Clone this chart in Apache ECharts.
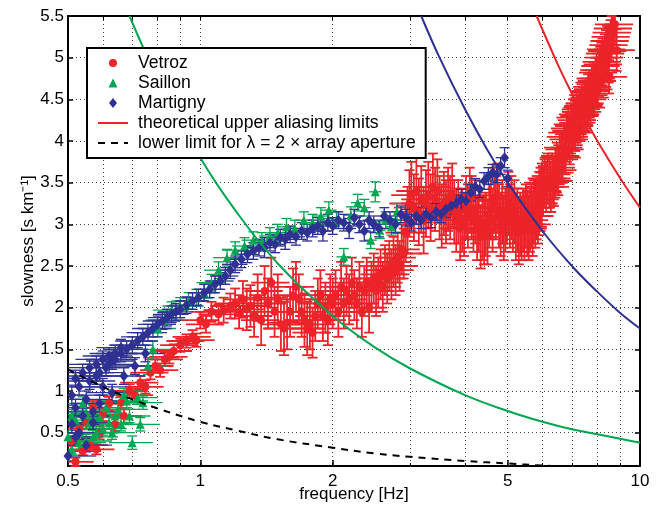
<!DOCTYPE html>
<html>
<head>
<meta charset="utf-8">
<script src="https://cdn.jsdelivr.net/npm/echarts@6/dist/echarts.min.js"></script>
<style>
  html, body { margin: 0; padding: 0; background: #fff; }
  #chart { width: 667px; height: 511px; }
</style>
</head>
<body>
<div id="chart"></div>
<script>
// frequency ticks (Hz) and slowness ticks (s/km)
var freqLabels = [0.5, 1, 2, 5, 10];
var freqGrid = [0.5, 0.6, 0.7, 0.8, 0.9, 1, 2, 3, 4, 5, 6, 7, 8, 9, 10];
var slowLabels = [0.5, 1, 1.5, 2, 2.5, 3, 3.5, 4, 4.5, 5, 5.5];

// frequency error: Vetroz as a fraction of f, the other two in Hz
var vetrozFreqErrRel = 0.1;
var freqErrHz = 0.08;

// Vetroz
var vetrozFreq = [
  0.51, 0.52, 0.53, 0.54, 0.55, 0.56, 0.57, 0.58, 0.59, 0.60,
  0.62, 0.64, 0.66, 0.67, 0.69, 0.71, 0.73, 0.75, 0.77, 0.79,
  0.81, 0.83, 0.85, 0.87, 0.90, 0.93, 0.96, 0.98, 1.00, 1.03,
  1.06, 1.10, 1.13, 1.17,
  1.200, 1.225, 1.250, 1.275, 1.300, 1.325, 1.350, 1.375, 1.400, 1.425,
  1.450, 1.475, 1.500, 1.525, 1.550, 1.575, 1.600, 1.625, 1.650, 1.675,
  1.700, 1.725, 1.750, 1.775, 1.800, 1.825, 1.850, 1.875, 1.900, 1.925,
  1.950, 1.975, 2.000,
  2.03, 2.06, 2.09, 2.12, 2.15, 2.18, 2.21, 2.24, 2.27, 2.30,
  2.33, 2.36, 2.39, 2.42, 2.45, 2.48, 2.51, 2.54, 2.57, 2.60,
  2.63, 2.66, 2.69, 2.72, 2.75, 2.78, 2.81, 2.84, 2.87, 2.90,
  2.93, 2.96, 2.99,
  3.02, 3.06, 3.10, 3.14, 3.18, 3.22, 3.26, 3.30, 3.34, 3.38,
  3.42, 3.46, 3.50, 3.54, 3.58, 3.62, 3.66, 3.70, 3.74, 3.78,
  3.82, 3.86, 3.90, 3.94, 3.98, 4.02, 4.06, 4.10, 4.14, 4.18,
  4.22, 4.26, 4.30, 4.34, 4.38, 4.42, 4.46, 4.50, 4.54, 4.58,
  4.62, 4.66, 4.70, 4.74, 4.78, 4.82, 4.86, 4.90, 4.94, 4.98,
  5.02, 5.06, 5.10, 5.14, 5.18, 5.22, 5.26, 5.30, 5.34, 5.38,
  5.42, 5.46, 5.50, 5.54, 5.58, 5.62, 5.66, 5.70, 5.74, 5.78,
  5.82, 5.86, 5.90, 5.94, 5.98,
  6.02, 6.07, 6.12, 6.17, 6.22, 6.27, 6.32, 6.37, 6.42, 6.47,
  6.52, 6.57, 6.62, 6.67, 6.72, 6.77, 6.82, 6.87, 6.92, 6.97,
  7.02, 7.07, 7.12, 7.17, 7.22, 7.27, 7.32, 7.37, 7.42, 7.47,
  7.52, 7.57, 7.62, 7.67, 7.72, 7.77, 7.82, 7.87, 7.92, 7.97,
  8.02, 8.07, 8.12, 8.17, 8.22, 8.27, 8.32, 8.37, 8.42, 8.47,
  8.52, 8.57, 8.62, 8.67, 8.72, 8.77,
  8.50, 8.85];
var vetrozSlow = [
  0.40, 0.15, 0.55, 0.28, 0.62, 0.35, 0.80, 0.30, 0.50, 0.72,
  0.85, 0.60, 0.86, 0.70, 1.00, 0.95, 1.10, 1.05, 1.22, 1.30,
  1.25, 1.38, 1.41, 1.48, 1.55, 1.60, 1.65, 1.61, 1.85, 1.80,
  1.95, 1.92, 1.97, 2.02,
  2.05, 1.95, 2.10, 1.98, 2.02, 1.90, 2.12, 1.85, 2.20, 2.05,
  2.30, 1.95, 2.10, 1.80, 1.75, 1.82, 1.95, 2.15, 2.25, 2.10,
  1.95, 1.85, 1.75, 1.80, 1.70, 1.90, 2.05, 2.15, 1.90, 2.00,
  1.85, 2.10, 2.05,
  2.15, 1.95, 2.25, 2.05, 2.20, 2.10, 2.30, 2.15, 2.05, 2.25,
  1.95, 2.20, 2.30, 2.00, 2.25, 2.35, 2.20, 2.30, 2.40, 2.25,
  2.45, 2.35, 2.50, 2.40, 2.55, 2.45, 2.60, 2.50, 2.70, 2.65,
  2.90, 3.05, 3.25,
  3.35, 3.20, 3.40, 3.15, 3.30, 3.05, 3.25, 3.35, 3.20, 3.45,
  3.30, 3.40, 3.20, 3.10, 3.25, 3.15, 3.30, 3.20, 3.35, 3.15,
  3.05, 3.15, 2.95, 3.05, 3.00, 3.20, 3.10, 3.30, 3.20, 3.05,
  3.15, 2.95, 3.05, 2.85, 2.95, 2.90, 3.00, 2.90, 3.10, 3.20,
  3.05, 3.30, 3.20, 3.35, 3.10, 3.00, 3.15, 2.95, 3.05, 3.15,
  3.25, 3.10, 3.20, 3.05, 3.15, 2.95, 3.05, 2.90, 3.00, 2.95,
  3.05, 2.95, 3.10, 3.00, 2.95, 3.05, 3.10, 3.00, 3.15, 3.10,
  3.20, 3.15, 3.25, 3.30, 3.35,
  3.40, 3.50, 3.45, 3.55, 3.50, 3.45, 3.55, 3.52, 3.62, 3.68,
  3.65, 3.78, 3.82, 3.80, 3.92, 3.90, 4.05, 4.10, 4.02, 4.15,
  4.12, 4.20, 4.18, 4.28, 4.25, 4.32, 4.30, 4.38, 4.35, 4.42,
  4.45, 4.40, 4.50, 4.55, 4.52, 4.60, 4.65, 4.62, 4.70, 4.75,
  4.72, 4.82, 4.85, 4.90, 4.95, 4.92, 5.00, 5.05, 5.10, 5.08,
  5.15, 5.20, 5.25, 5.30, 5.35, 5.40,
  4.77, 5.09];
var vetrozErr = [
  0.06, 0.05, 0.06, 0.05, 0.08, 0.06, 0.08, 0.06, 0.08, 0.08,
  0.08, 0.08, 0.08, 0.08, 0.08, 0.08, 0.08, 0.08, 0.08, 0.08,
  0.08, 0.08, 0.08, 0.08, 0.08, 0.08, 0.08, 0.08, 0.10, 0.10,
  0.12, 0.12, 0.15, 0.15,
  0.18, 0.20, 0.22, 0.25, 0.25, 0.25, 0.28, 0.30, 0.30, 0.30,
  0.30, 0.30, 0.30, 0.32, 0.32, 0.32, 0.30, 0.32, 0.30, 0.30,
  0.30, 0.32, 0.32, 0.30, 0.30, 0.30, 0.30, 0.30, 0.30, 0.30,
  0.30, 0.30, 0.30,
  0.30, 0.30, 0.30, 0.30, 0.30, 0.30, 0.30, 0.30, 0.30, 0.30,
  0.30, 0.30, 0.30, 0.30, 0.30, 0.30, 0.30, 0.30, 0.30, 0.30,
  0.30, 0.30, 0.30, 0.30, 0.30, 0.30, 0.30, 0.30, 0.30, 0.30,
  0.35, 0.40, 0.40,
  0.40, 0.40, 0.40, 0.40, 0.40, 0.40, 0.40, 0.40, 0.40, 0.40,
  0.38, 0.38, 0.38, 0.38, 0.38, 0.38, 0.38, 0.38, 0.38, 0.38,
  0.38, 0.38, 0.38, 0.38, 0.38, 0.38, 0.38, 0.38, 0.38, 0.38,
  0.38, 0.38, 0.38, 0.38, 0.38, 0.38, 0.38, 0.38, 0.38, 0.38,
  0.38, 0.38, 0.38, 0.38, 0.38, 0.38, 0.38, 0.38, 0.38, 0.38,
  0.38, 0.38, 0.38, 0.38, 0.38, 0.38, 0.38, 0.38, 0.38, 0.38,
  0.38, 0.38, 0.38, 0.38, 0.38, 0.38, 0.38, 0.38, 0.38, 0.38,
  0.38, 0.38, 0.38, 0.38, 0.38,
  0.30, 0.30, 0.30, 0.30, 0.30, 0.30, 0.30, 0.30, 0.30, 0.30,
  0.30, 0.30, 0.30, 0.30, 0.30, 0.30, 0.30, 0.30, 0.30, 0.30,
  0.30, 0.30, 0.30, 0.30, 0.30, 0.30, 0.30, 0.30, 0.30, 0.30,
  0.30, 0.30, 0.30, 0.30, 0.30, 0.30, 0.30, 0.30, 0.30, 0.30,
  0.28, 0.28, 0.28, 0.28, 0.28, 0.28, 0.28, 0.28, 0.28, 0.28,
  0.25, 0.25, 0.25, 0.25, 0.25, 0.25,
  0.20, 0.25];

// Saillon
var saillonFreq = [0.50, 0.51, 0.52, 0.53, 0.54, 0.55, 0.56, 0.57, 0.58, 0.60,
  0.61, 0.62, 0.64, 0.66, 0.68, 0.70, 0.72, 0.74, 0.76, 0.78,
  0.80, 0.83, 0.86, 0.90, 0.94, 0.98, 1.02, 1.06, 1.10, 1.15,
  1.20, 1.26, 1.32, 1.38, 1.44, 1.50, 1.57, 1.64, 1.72, 1.80,
  1.88, 1.96, 2.04, 2.12, 2.20, 2.28, 2.36, 2.44, 2.50, 2.56,
  2.64, 2.72, 2.80,
  0.51, 0.53, 0.55, 0.57, 0.59, 0.63, 0.65, 0.67, 0.69, 0.73];
var saillonSlow = [0.45, 0.30, 0.65, 0.50, 0.85, 0.40, 0.62, 0.75, 0.50, 0.55,
  0.80, 0.62, 0.70, 0.60, 0.88, 0.38, 0.92, 0.86, 1.30, 1.50,
  1.75, 1.85, 1.97, 2.02, 2.08, 2.12, 2.18, 2.30, 2.45, 2.60,
  2.69, 2.74, 2.81, 2.80, 2.86, 2.90, 2.97, 2.95, 3.05, 3.02,
  3.10, 3.17, 3.05, 2.61, 3.11, 3.26, 3.20, 2.81, 3.39, 2.93,
  3.05, 2.97, 3.15,
  0.70, 0.38, 0.72, 0.45, 0.68, 0.50, 0.78, 0.95, 0.70, 0.60];
var saillonErr = [0.08, 0.06, 0.08, 0.08, 0.08, 0.08, 0.08, 0.08, 0.08, 0.08,
  0.08, 0.08, 0.08, 0.08, 0.08, 0.08, 0.08, 0.08, 0.10, 0.10,
  0.10, 0.10, 0.10, 0.10, 0.10, 0.10, 0.10, 0.10, 0.10, 0.10,
  0.10, 0.10, 0.10, 0.10, 0.10, 0.10, 0.10, 0.10, 0.10, 0.10,
  0.10, 0.10, 0.10, 0.10, 0.10, 0.10, 0.10, 0.10, 0.12, 0.10,
  0.10, 0.10, 0.10,
  0.08, 0.08, 0.08, 0.08, 0.08, 0.08, 0.08, 0.08, 0.08, 0.08];

// Martigny
var martignyFreq = [0.50, 0.51, 0.51, 0.52, 0.52, 0.53, 0.54, 0.55, 0.55, 0.56,
  0.57, 0.58, 0.59, 0.60, 0.61, 0.62, 0.63, 0.64, 0.66, 0.68,
  0.70, 0.72, 0.74, 0.76, 0.78, 0.80, 0.82, 0.84, 0.86, 0.88,
  0.90, 0.93, 0.96, 0.99, 1.02, 1.05, 1.08, 1.11, 1.14, 1.17,
  1.20, 1.24, 1.28, 1.32, 1.36, 1.40, 1.44, 1.48, 1.52, 1.56,
  1.60, 1.65, 1.70, 1.75, 1.80, 1.85, 1.90, 1.95, 2.00, 2.06,
  2.12, 2.18, 2.24, 2.30, 2.36, 2.42, 2.48, 2.55, 2.62, 2.70,
  2.78, 2.86, 2.94, 3.02, 3.10, 3.18, 3.26, 3.35, 3.44, 3.53,
  3.62, 3.72, 3.82, 3.92, 4.02, 4.12, 4.22, 4.32, 4.42, 4.52,
  4.62, 4.72, 4.82, 4.92, 5.00,
  0.52, 0.54, 0.56, 0.58, 0.60, 0.62, 0.64, 0.66, 0.53, 0.57,
  0.59, 0.63, 0.67, 0.71, 0.75];
var martignySlow = [0.22, 0.60, 0.95, 0.45, 0.80, 1.05, 0.70, 0.35, 0.90, 1.12,
  0.75, 1.18, 1.22, 1.05, 1.28, 1.32, 1.36, 1.38, 1.45, 1.50,
  1.55, 1.60, 1.65, 1.70, 1.75, 1.80, 1.84, 1.88, 1.92, 1.95,
  1.98, 2.03, 2.08, 2.12, 2.18, 2.22, 2.28, 2.32, 2.38, 2.45,
  2.52, 2.58, 2.64, 2.68, 2.72, 2.72, 2.78, 2.76, 2.84, 2.82,
  2.88, 2.85, 2.92, 2.90, 2.95, 2.98, 2.92, 3.02, 2.98, 3.05,
  3.02, 2.95, 3.08, 3.00, 2.92, 3.05, 3.00, 2.95, 3.10, 3.05,
  3.00, 3.12, 3.08, 3.02, 3.10, 3.05, 3.12, 3.08, 3.15, 3.12,
  3.18, 3.22, 3.25, 3.30, 3.28, 3.38, 3.45, 3.42, 3.52, 3.58,
  3.62, 3.60, 3.70, 3.80, 3.55,
  1.15, 1.22, 1.28, 1.32, 1.38, 1.42, 1.45, 1.52, 0.50, 0.62,
  0.85, 0.98, 1.18, 1.30, 1.45];
var martignyErr = [0.06, 0.10, 0.12, 0.08, 0.10, 0.10, 0.10, 0.08, 0.10, 0.10,
  0.10, 0.10, 0.10, 0.10, 0.10, 0.10, 0.10, 0.10, 0.10, 0.10,
  0.10, 0.10, 0.10, 0.10, 0.10, 0.10, 0.10, 0.10, 0.10, 0.10,
  0.10, 0.10, 0.10, 0.10, 0.10, 0.10, 0.10, 0.10, 0.10, 0.10,
  0.10, 0.10, 0.10, 0.10, 0.10, 0.12, 0.10, 0.10, 0.10, 0.12,
  0.10, 0.10, 0.10, 0.10, 0.10, 0.10, 0.12, 0.10, 0.10, 0.10,
  0.10, 0.12, 0.10, 0.10, 0.12, 0.10, 0.10, 0.10, 0.10, 0.10,
  0.10, 0.10, 0.10, 0.10, 0.10, 0.10, 0.10, 0.12, 0.10, 0.10,
  0.10, 0.10, 0.10, 0.12, 0.10, 0.10, 0.10, 0.10, 0.10, 0.10,
  0.10, 0.10, 0.10, 0.12, 0.10,
  0.10, 0.10, 0.10, 0.10, 0.10, 0.10, 0.10, 0.10, 0.08, 0.08,
  0.10, 0.10, 0.10, 0.10, 0.10];

// theoretical upper aliasing limits
var limitRedFreq = [5.82, 6.5, 7, 7.5, 8, 9, 10];
var limitRedSlow = [5.5, 4.92, 4.57, 4.27, 4.0, 3.56, 3.2];
var limitGreenFreq = [0.69, 0.8, 1.0, 1.2, 1.5, 2, 2.5, 3, 4, 5, 6, 7, 8, 10];
var limitGreenSlow = [5.5, 4.75, 3.8, 3.17, 2.53, 1.9, 1.52, 1.27, 0.95, 0.76, 0.63, 0.54, 0.48, 0.38];
var limitBlueFreq = [3.18, 3.5, 4, 4.5, 5, 6, 7, 8, 9, 10];
var limitBlueSlow = [5.5, 5.0, 4.38, 3.89, 3.5, 2.92, 2.5, 2.19, 1.94, 1.75];
// lower limit for lambda = 2 x aperture
var lowerFreq = [0.5, 0.6, 0.7, 0.8, 1.0, 1.2, 1.5, 2, 2.5, 3, 4, 5, 6, 6.3];
var lowerSlow = [1.26, 1.05, 0.9, 0.79, 0.63, 0.53, 0.42, 0.32, 0.25, 0.21, 0.16, 0.13, 0.105, 0.1];

var RED = '#ec2329';
var GREEN = '#00a651';
var BLUE = '#2e3192';
var FONT = 'Liberation Sans';
var FS = 17;

var lg = function (v) { return Math.log10(v); };

function pts(freq, slow) {
  return freq.map(function (f, i) { return [lg(f), slow[i]]; });
}
// [x, s, sErr, xLeft, xRight]
function errPts(freq, slow, err, fLow, fHigh) {
  return freq.map(function (f, i) {
    return [lg(f), slow[i], err[i], lg(fLow(f)), lg(fHigh(f))];
  });
}
var relLow = function (f) { return f * (1 - vetrozFreqErrRel); };
var relHigh = function (f) { return f * (1 + vetrozFreqErrRel); };
var absLow = function (f) { return Math.max(f - freqErrHz, 0.01); };
var absHigh = function (f) { return f + freqErrHz; };

function errRender(color, width) {
  return function (params, api) {
    var cs = params.coordSys;
    var x0 = cs.x, x1 = cs.x + cs.width, y0 = cs.y, y1 = cs.y + cs.height;
    var clampX = function (v) { return Math.min(Math.max(v, x0), x1); };
    var clampY = function (v) { return Math.min(Math.max(v, y0), y1); };
    var s = api.value(1), e = api.value(2);
    var c = api.coord([api.value(0), s]);
    var top = api.coord([api.value(0), s + e])[1];
    var bot = api.coord([api.value(0), s - e])[1];
    var left = api.coord([api.value(3), s])[0];
    var right = api.coord([api.value(4), s])[0];
    var cap = 5;
    var style = { stroke: color, lineWidth: width };
    var kids = [];
    var cx = c[0];
    if (cx >= x0 && cx <= x1) {
      kids.push({ type: 'line', shape: { x1: cx, y1: clampY(top), x2: cx, y2: clampY(bot) }, style: style });
      if (top >= y0 && top <= y1) {
        kids.push({ type: 'line', shape: { x1: clampX(cx - cap), y1: top, x2: clampX(cx + cap), y2: top }, style: style });
      }
      if (bot >= y0 && bot <= y1) {
        kids.push({ type: 'line', shape: { x1: clampX(cx - cap), y1: bot, x2: clampX(cx + cap), y2: bot }, style: style });
      }
    }
    if (c[1] >= y0 && c[1] <= y1) {
      kids.push({ type: 'line', shape: { x1: clampX(left), y1: c[1], x2: clampX(right), y2: c[1] }, style: style });
    }
    return { type: 'group', children: kids };
  };
}

var xMin = lg(0.5), xMax = 1;
var gridLine = { show: true, lineStyle: { color: '#444', width: 1, type: [1, 3] } };

// legend marker shapes, padded to the 30x10 legend icon box
var iconCircle = 'path://M0 0M30 10M11 5A4 4 0 1 1 19 5A4 4 0 1 1 11 5Z';
var iconTriangle = 'path://M0 0M30 10M10.5 9.5L15 0.5L19.5 9.5Z';
var iconDiamond = 'path://M0 0M30 10M15 0L19 5L15 10L11 5Z';

var chart = echarts.init(document.getElementById('chart'));
var option = {
  animation: false,
  backgroundColor: '#fff',
  grid: { left: 68, right: 27, top: 16, bottom: 45 },
  legend: {
    left: 87,
    top: 48,
    orient: 'vertical',
    backgroundColor: '#fff',
    borderColor: '#000',
    borderWidth: 2,
    padding: [6, 10, 6, 10],
    itemGap: 2,
    itemWidth: 30,
    itemHeight: 10,
    textStyle: { fontFamily: FONT, fontSize: 17.6, color: '#000', lineHeight: 17, padding: [0, 0, 0, 5] },
    data: [
      { name: 'Vetroz', icon: iconCircle },
      { name: 'Saillon', icon: iconTriangle },
      { name: 'Martigny', icon: iconDiamond },
      { name: 'theoretical upper aliasing limits', itemStyle: { opacity: 0 } },
      { name: 'lower limit for λ = 2 × array aperture', itemStyle: { opacity: 0 } }
    ]
  },
  xAxis: [
    {
      type: 'value', min: xMin, max: xMax, position: 'bottom',
      name: 'frequency [Hz]', nameLocation: 'middle', nameGap: 20, nameMoveOverlap: false,
      nameTextStyle: { fontFamily: FONT, fontSize: FS, color: '#000' },
      axisLine: { show: true, onZero: false, lineStyle: { color: '#000', width: 2 } },
      axisTick: { show: true, inside: true, length: 6, customValues: freqLabels.map(lg), lineStyle: { color: '#000', width: 1.5 } },
      axisLabel: {
        customValues: freqLabels.map(lg), margin: 7,
        fontFamily: FONT, fontSize: FS, color: '#000',
        formatter: function (v) { return String(Math.round(Math.pow(10, v) * 10) / 10); }
      },
      splitLine: { show: false }
    },
    {
      type: 'value', min: xMin, max: xMax, position: 'bottom',
      axisLine: { show: false, onZero: false },
      axisTick: { show: true, inside: true, length: 3, customValues: freqGrid.map(lg), lineStyle: { color: '#000' } },
      axisLabel: { show: false },
      splitLine: gridLine
    },
    {
      type: 'value', min: xMin, max: xMax, position: 'top',
      axisLine: { show: true, onZero: false, lineStyle: { color: '#000', width: 2 } },
      axisTick: { show: true, inside: true, length: 4, customValues: freqGrid.map(lg), lineStyle: { color: '#000' } },
      axisLabel: { show: false },
      splitLine: { show: false }
    }
  ],
  yAxis: [
    {
      type: 'value', min: 0.1, max: 5.5, position: 'left',
      name: 'slowness [s km⁻¹]', nameLocation: 'middle', nameGap: 31, nameMoveOverlap: false,
      nameTextStyle: { fontFamily: FONT, fontSize: FS, color: '#000' },
      axisLine: { show: true, onZero: false, lineStyle: { color: '#000', width: 2 } },
      axisTick: { show: true, inside: true, length: 5, customValues: slowLabels, lineStyle: { color: '#000', width: 1.5 } },
      axisLabel: {
        customValues: slowLabels, margin: 4,
        fontFamily: FONT, fontSize: FS, color: '#000',
        formatter: function (v) { return String(v); }
      },
      splitLine: gridLine
    },
    {
      type: 'value', min: 0.1, max: 5.5, position: 'right',
      axisLine: { show: true, onZero: false, lineStyle: { color: '#000', width: 2 } },
      axisTick: { show: true, inside: true, length: 5, customValues: slowLabels, lineStyle: { color: '#000', width: 1.5 } },
      axisLabel: { show: false },
      splitLine: { show: false }
    }
  ],
  series: [
    { name: 'Vetroz err', type: 'custom', renderItem: errRender(RED, 1.8), data: errPts(vetrozFreq, vetrozSlow, vetrozErr, relLow, relHigh), encode: { x: 0, y: 1 } },
    { name: 'Vetroz', type: 'scatter', symbol: 'circle', symbolSize: 8, itemStyle: { color: RED, opacity: 1 }, data: pts(vetrozFreq, vetrozSlow) },
    { name: 'Saillon err', type: 'custom', renderItem: errRender(GREEN, 1.3), data: errPts(saillonFreq, saillonSlow, saillonErr, absLow, absHigh), encode: { x: 0, y: 1 } },
    { name: 'Saillon', type: 'scatter', symbol: 'triangle', symbolSize: 9, itemStyle: { color: GREEN, opacity: 1 }, data: pts(saillonFreq, saillonSlow) },
    { name: 'Martigny err', type: 'custom', renderItem: errRender(BLUE, 1.3), data: errPts(martignyFreq, martignySlow, martignyErr, absLow, absHigh), encode: { x: 0, y: 1 } },
    { name: 'Martigny', type: 'scatter', symbol: 'diamond', symbolSize: [9, 11], itemStyle: { color: BLUE, opacity: 1 }, data: pts(martignyFreq, martignySlow) },
    { name: 'limit Saillon', type: 'line', smooth: 0.4, symbol: 'none', lineStyle: { color: GREEN, width: 2 }, data: pts(limitGreenFreq, limitGreenSlow) },
    { name: 'limit Martigny', type: 'line', smooth: 0.4, symbol: 'none', lineStyle: { color: BLUE, width: 2 }, data: pts(limitBlueFreq, limitBlueSlow) },
    { name: 'theoretical upper aliasing limits', type: 'line', smooth: 0.4, symbol: 'none', itemStyle: { color: RED }, lineStyle: { color: RED, width: 2 }, data: pts(limitRedFreq, limitRedSlow) },
    { name: 'lower limit for λ = 2 × array aperture', type: 'line', smooth: 0.4, symbol: 'none', itemStyle: { color: '#000' }, lineStyle: { color: '#000', width: 2, type: [7, 6] }, data: pts(lowerFreq, lowerSlow) }
  ]
};
chart.setOption(option);
</script>
</body>
</html>
